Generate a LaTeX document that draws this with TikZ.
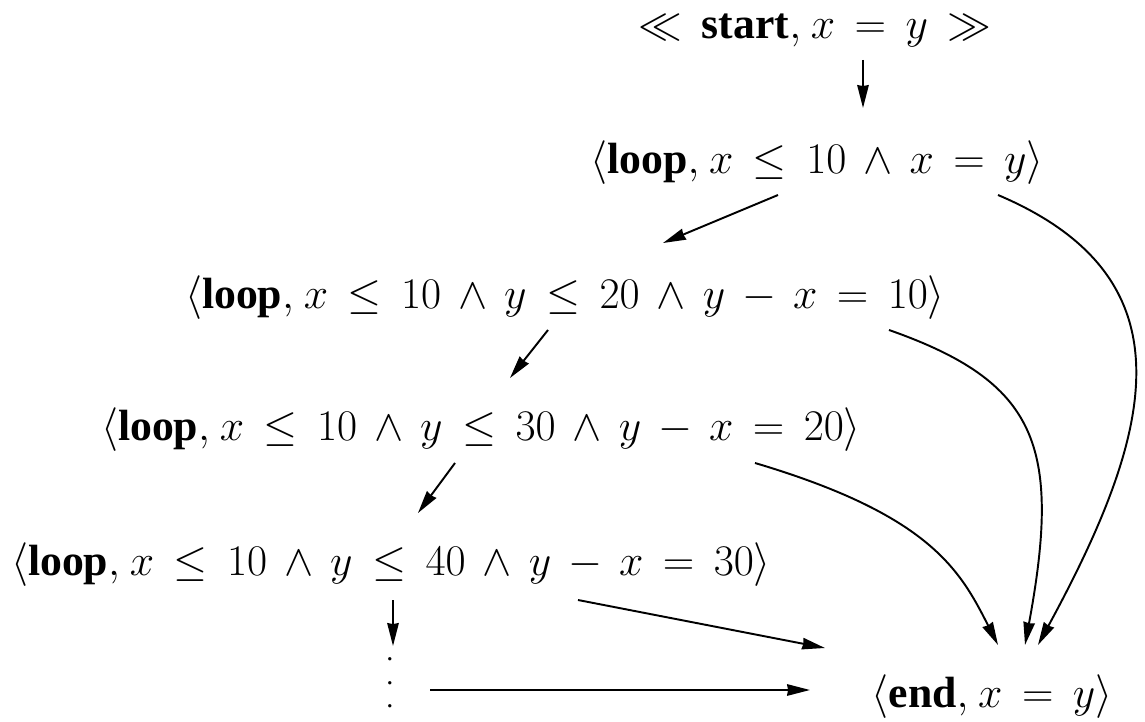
\documentclass[tikz,border=0pt]{standalone}
\usepackage[no-math]{fontspec}
\setmainfont{Liberation Serif}
\usepackage{amsmath,amssymb}
\usetikzlibrary{arrows.meta,calc}
\thickmuskip=8mu
\medmuskip=7mu
\thinmuskip=4mu

\begin{document}
\begin{tikzpicture}[x=0.02cm,y=-0.02cm,>={Stealth[length=13pt,width=6.5pt,inset=0.5pt]},
  st/.style={inner sep=0pt,font=\fontsize{24.88}{30}\selectfont},
  arr/.style={->,line width=1.1pt}]
  \useasboundingbox (0,0) rectangle (1145,722);
  \node[st] (s) at (815,30) {$\ll \textbf{start}, x = y \gg$};
  \node[st] (l1) at (817,163) {$\langle\textbf{loop}, x \leq 10 \wedge x = y\rangle$};
  \node[st] (l2) at (565,298) {$\langle\textbf{loop}, x \leq 10 \wedge y \leq 20 \wedge y - x = 10\rangle$};
  \node[st] (l3) at (481,430) {$\langle\textbf{loop}, x \leq 10 \wedge y \leq 30 \wedge y - x = 20\rangle$};
  \node[st] (l4) at (391,565) {$\langle\textbf{loop}, x \leq 10 \wedge y \leq 40 \wedge y - x = 30\rangle$};
  \node[inner sep=0pt,font=\fontsize{16}{13.5}\selectfont] (d) at (390,683)
    {\vbox{\baselineskip=13.5pt\lineskiplimit=0pt\hbox{.}\hbox{.}\hbox{.}}};
  \node[st] (e) at (992,697) {$\langle\textbf{end}, x = y\rangle$};
  % straight steps down the chain
  \draw[arr] ($(s)+(48,30)$) -- ($(l1)+(46,-55)$);
  \draw[arr] ($(l1)+(-39,32)$) -- ($(l2)+(98,-55)$);
  \draw[arr] ($(l2)+(-17,32)$) -- ($(l3)+(29,-52)$);
  \draw[arr] ($(l3)+(-26,33)$) -- ($(l4)+(27,-52)$);
  \draw[arr] ($(l4)+(2,35)$) -- ($(d)+(3,-37)$);
  % exits to end
  \draw[arr] ($(l1)+(181,32)$) .. controls +(198,84) and +(114,-210) .. ($(e)+(46,-52)$);
  \draw[arr] ($(l2)+(324,32)$) .. controls +(148,52) and +(37,-200) .. ($(e)+(33,-52)$);
  \draw[arr] ($(l3)+(274,33)$) .. controls +(175,52) and +(-38,-75) .. ($(e)+(6,-52)$);
  \draw[arr] ($(l4)+(187,35)$) -- ($(e)+(-167,-49)$);
  \draw[arr] ($(d)+(40,7)$) -- ($(e)+(-182,-7)$);
\end{tikzpicture}
\end{document}
